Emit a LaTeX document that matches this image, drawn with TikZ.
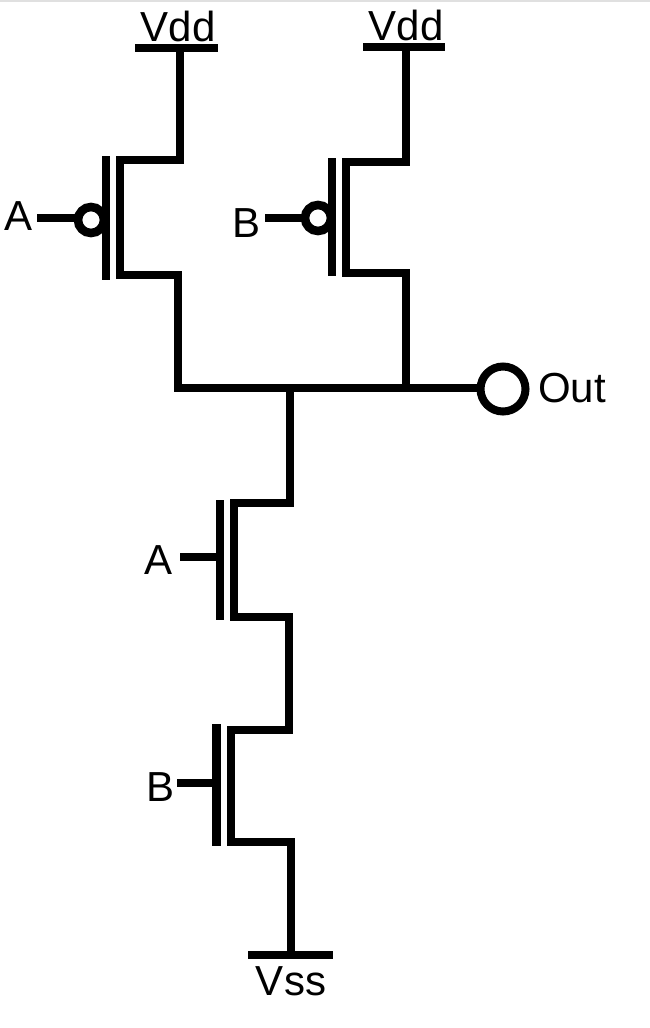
\documentclass[tikz,border=0pt]{standalone}
\usepackage{fontspec}
\setmainfont{Liberation Sans}
\tikzset{
  wire/.style={line width=8.6pt,line cap=butt,line join=miter,draw=black},
  bubble/.style={circle,draw=black,fill=white,line width=8.6pt,minimum size=26pt,inner sep=0pt,outer sep=0pt},
  outpin/.style={circle,draw=black,fill=white,line width=8pt,minimum size=45pt,inner sep=0pt,outer sep=0pt},
  lbl/.style={inner sep=0pt,outer sep=0pt,font=\fontsize{42}{50}\selectfont,text=black}
}
\begin{document}
\begin{tikzpicture}[x=1pt,y=-1pt]
\useasboundingbox (0,0) rectangle (650,1028);
\fill[white] (0,0) rectangle (650,1028);
\fill[black!12] (0,0) rectangle (650,2);
% labels
\node[lbl] (lVdd1) at (178,26) {Vdd};
\node[lbl] (lVdd2) at (406,25) {Vdd};
\node[lbl] (lA1) at (19,216) {A};
\node[lbl] (lB1) at (247,223) {B};
\node[lbl] (lOut) at (572,388) {Out};
\node[lbl] (lA2) at (159,560) {A};
\node[lbl] (lB2) at (161,787) {B};
\node[lbl] (lVss) at (291,981) {Vss};
% coordinates
\coordinate (railL) at (135,48); \coordinate (railLe) at (218,48);
\coordinate (railR) at (363,47); \coordinate (railRe) at (445,47);
\coordinate (railS) at (248,955); \coordinate (railSe) at (333,955);
\coordinate (inA1) at (37,218); \coordinate (inB1) at (265,218);
\coordinate (inA2) at (180,557); \coordinate (gA2) at (220,557);
\coordinate (inB2) at (177,783); \coordinate (gB2) at (216,783);
\coordinate (tapL) at (178,388); \coordinate (tapM) at (290,388); \coordinate (tapR) at (406,388);
% supply bars
\draw[wire] (railL) -- (railLe);
\draw[wire] (railR) -- (railRe);
\draw[wire] (railS) -- (railSe);
% PMOS A
\draw[wire] (180,48) -- (180,160) -- (120,160) -- (120,275) -- (178,275) -- (tapL) -- (tapR);
\draw[wire] (106,156) -- (106,280);
% PMOS B
\draw[wire] (406,47) -- (406,162) -- (346,162) -- (346,273) -- (406,273) -- (tapR);
\draw[wire] (332,158) -- (332,276);
% output
\node[outpin] (out) at (503,389) {};
\draw[wire] (tapR) -- (tapR -| out.west);
% NMOS
\draw[wire] (tapM) -- (290,503) -- (234,503) -- (234,617) -- (289,617) -- (289,730) -- (231,730) -- (231,842) -- (291,842) -- (291,955);
\draw[wire] (220,500) -- (220,620);
\draw[wire] (216.5,724) -- (216.5,846);
\draw[wire] (inA2) -- (gA2);
\draw[wire] (inB2) -- (gB2);
% bubbles
\node[bubble] (bA) at (91,220) {};
\node[bubble] (bB) at (318,218) {};
\draw[wire] (inA1) -- (inA1 -| bA.west);
\draw[wire] (inB1) -- (inB1 -| bB.west);
\end{tikzpicture}
\end{document}
